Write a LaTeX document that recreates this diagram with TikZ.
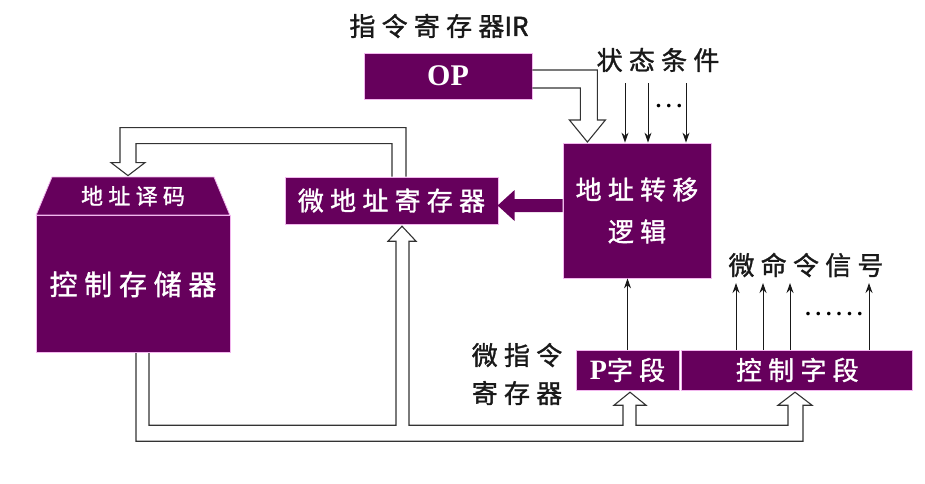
\documentclass[tikz,border=0pt]{standalone}
\usepackage{fontspec}
\setmainfont{Noto Sans CJK SC}
\newfontfamily\cjk[LetterSpace=24,FakeBold=1.2]{Noto Sans CJK SC}
\newfontfamily\latinsans[FakeBold=1.5]{Noto Sans CJK SC}
\newfontfamily\serifbf{Liberation Serif}
\newfontfamily\dotfont[LetterSpace=22]{Liberation Serif}
\usetikzlibrary{positioning,arrows.meta,calc,shapes.geometric}
\definecolor{regpurple}{HTML}{66005C}
\definecolor{regedge}{HTML}{F2B6EE}
\definecolor{pipegrey}{HTML}{333333}
\tikzset{
  reg/.style={
    draw=regedge, fill=regpurple, line width=0.8pt, text=white,
    inner sep=0pt, align=center, font=\cjk\fontsize{26}{42}\selectfont,
  },
  lab/.style ={inner sep=0pt, align=center, text=black!90, font=\cjk\fontsize{26}{38}\selectfont},
  pipe/.style={draw=pipegrey, line width=1.1pt, line join=miter},
  sig/.style ={-{Stealth[length=10pt,width=7pt]}, draw=black!90, line width=1pt},
  dots/.style={inner sep=0pt, font=\dotfont\bfseries\fontsize{22}{22}\selectfont},
}

\begin{document}
\begin{tikzpicture}[x=1pt, y=-1pt]
\useasboundingbox (0,0) rectangle (925,483);

% instruction register
\node[lab] (irlab) at (439,26) {指令寄存器{\latinsans IR}};
\node[reg, minimum width=168pt, minimum height=46pt] (op) at (448,76)
  {\serifbf\bfseries\fontsize{30}{30}\selectfont OP};

% address transfer logic
\node[reg, minimum width=148pt, minimum height=135pt] (addr) at (637,210.5)
  {地址转移\\逻辑};
\node[lab] (cond) at (658,60) {状态条件};

% micro address register
\node[reg, minimum width=213pt, minimum height=47pt] (mar) at (391.5,200.5)
  {微地址寄存器};

% control store with address decoder on top
\node[trapezium, trapezium stretches=true, trapezium left angle=63.4, trapezium right angle=63.4,
  reg, minimum width=194pt, minimum height=38pt, font=\cjk\fontsize{22}{22}\selectfont]
  (dec) at (133,196) {地址译码};
\node[reg, below=0pt of dec, minimum width=194pt, minimum height=137pt,
  font=\cjk\fontsize{28}{28}\selectfont] (cs) {控制存储器};

% micro instruction register
\node[reg, minimum width=103pt, minimum height=40pt] (pfield) at (627.5,370)
  {{\serifbf\bfseries\fontsize{28}{28}\selectfont P}字段};
\node[reg, right=2pt of pfield, minimum width=231pt, minimum height=40pt] (cfield)
  {控制字段};
\node[lab] (mirlab) at (517,374) {微指令\\寄存器};
\node[lab] (sigs) at (806,265) {微命令信号};

% condition inputs
\foreach \x [count=\i] in {625,648,686} {
  \coordinate (c\i) at (\x,83);
  \draw[sig] (c\i) -- (c\i |- addr.north);
}
\node[dots] (cdots) at (669,106) {...};

% micro command outputs
\foreach \x [count=\i] in {736,763,790,869} {
  \coordinate (m\i) at (\x,283);
  \draw[sig] (m\i |- cfield.north) -- (m\i);
}
\node[dots] (mdots) at (834,314) {......};

\draw[sig] (pfield.north) -- (pfield.north |- addr.south);

% thick arrow to micro address register
\fill[regpurple] ($(addr.west)+(0,-11.5)$) -- ++(-48,0) -- ++(0,-9) -- ++(-17,15.5)
  -- ++(17,15.5) -- ++(0,-9) -- ++(48,0) -- cycle;

% OP into address logic
\draw[pipe] ($(op.east)+(0,-6)$) -- ++(65,0) -- ++(0,50) -- ++(8,0) -- ++(-18,22)
  -- ++(-18,-22) -- ++(11,0) -- ++(0,-32) -- ($(op.east)+(0,12)$);

% micro address into decoder
\draw[pipe] ($(mar.north)+(0.5,0)$) -- ++(0,-33) -- ++(-256,0) -- ++(0,19) -- ++(9,0)
  -- ++(-17,13) -- ++(-17,-13) -- ++(9,0) -- ++(0,-35) -- ++(286,0) -- (mar.north -| 406,0);

% control store output bus
\draw[pipe] ($(cs.south)+(3,0)$) -- ++(0,88) -- ++(667,0) -- ++(0,-36) -- ++(9,0)
  -- ++(-17,-13) -- ++(-17,13) -- ++(10,0) -- ++(0,20) -- ++(-152,0) -- ++(0,-20)
  -- ++(10,0) -- ++(-16,-13) -- ++(-16,13) -- ++(9,0) -- ++(0,20) -- ++(-214,0)
  -- ++(0,-184) -- ++(7,0) -- ++(-14,-15) -- ++(-14,15) -- ++(8,0) -- ++(0,184)
  -- ++(-247,0) -- ($(cs.south)+(16,0)$);

\end{tikzpicture}
\end{document}
